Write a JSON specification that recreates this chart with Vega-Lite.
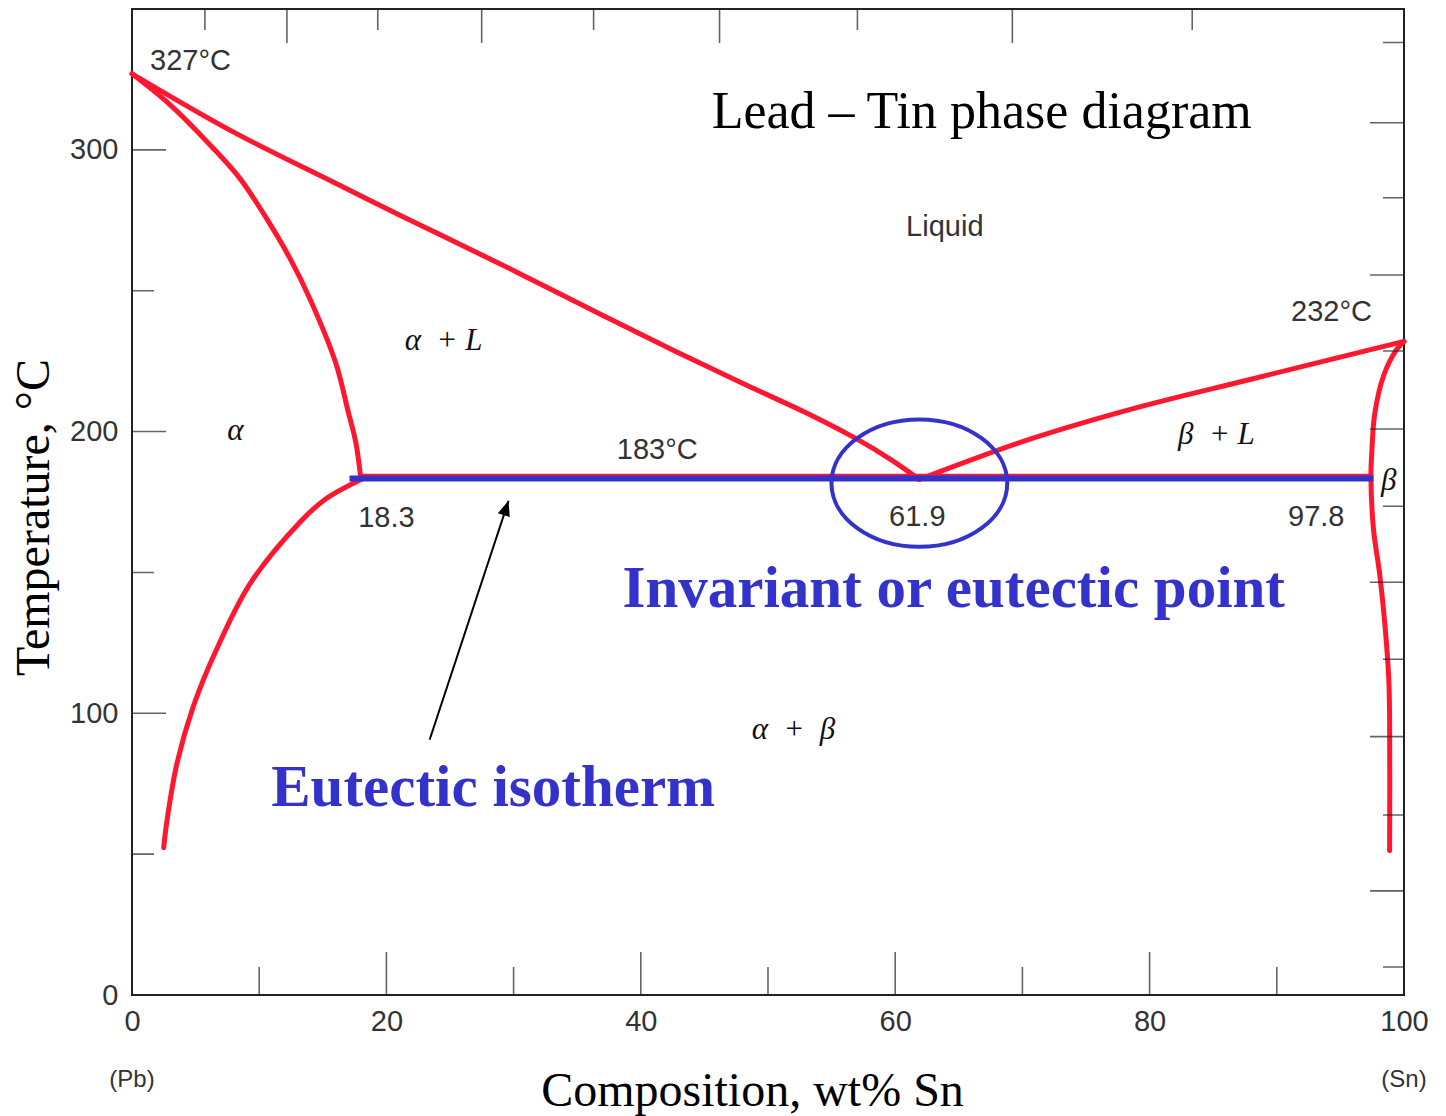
{
  "$schema": "https://vega.github.io/schema/vega-lite/v6.json",
  "width": 1272,
  "height": 986,
  "autosize": {"type": "none"},
  "padding": {"left": 132, "top": 9, "right": 42, "bottom": 121},
  "background": "white",
  "config": {"view": {"stroke": "#222", "strokeWidth": 2}, "font": "Liberation Sans"},
  "datasets": {
    "curves": [
      {"curve": "liqA", "i": 0, "x": 0, "T": 327},
      {"curve": "liqA", "i": 1, "x": 7.99, "T": 306.3},
      {"curve": "liqA", "i": 2, "x": 15.85, "T": 288.5},
      {"curve": "liqA", "i": 3, "x": 21.1, "T": 276.7},
      {"curve": "liqA", "i": 4, "x": 28.95, "T": 259.5},
      {"curve": "liqA", "i": 5, "x": 32.1, "T": 252.4},
      {"curve": "liqA", "i": 6, "x": 39.96, "T": 234.6},
      {"curve": "liqA", "i": 7, "x": 47.82, "T": 217.5},
      {"curve": "liqA", "i": 8, "x": 53.07, "T": 206.5},
      {"curve": "liqA", "i": 9, "x": 57.0, "T": 197.3},
      {"curve": "liqA", "i": 10, "x": 59.6, "T": 190.2},
      {"curve": "liqA", "i": 11, "x": 61.9, "T": 183},
      {"curve": "solA", "i": 0, "x": 0, "T": 327},
      {"curve": "solA", "i": 1, "x": 3.0, "T": 316},
      {"curve": "solA", "i": 2, "x": 6.42, "T": 300.4},
      {"curve": "solA", "i": 3, "x": 8.51, "T": 289.7},
      {"curve": "solA", "i": 4, "x": 10.6, "T": 275.5},
      {"curve": "solA", "i": 5, "x": 12.44, "T": 261.3},
      {"curve": "solA", "i": 6, "x": 14.0, "T": 247},
      {"curve": "solA", "i": 7, "x": 16.0, "T": 224.6},
      {"curve": "solA", "i": 8, "x": 17.0, "T": 207},
      {"curve": "solA", "i": 9, "x": 17.6, "T": 196},
      {"curve": "solA", "i": 10, "x": 18.0, "T": 183},
      {"curve": "solvA", "i": 0, "x": 18.0, "T": 183},
      {"curve": "solvA", "i": 1, "x": 15.2, "T": 176},
      {"curve": "solvA", "i": 2, "x": 13.24, "T": 168},
      {"curve": "solvA", "i": 3, "x": 9.31, "T": 146.2},
      {"curve": "solvA", "i": 4, "x": 6.68, "T": 123},
      {"curve": "solvA", "i": 5, "x": 4.84, "T": 102.7},
      {"curve": "solvA", "i": 6, "x": 3.54, "T": 82.3},
      {"curve": "solvA", "i": 7, "x": 2.75, "T": 61.9},
      {"curve": "solvA", "i": 8, "x": 2.49, "T": 52.3},
      {"curve": "liqB", "i": 0, "x": 61.9, "T": 183},
      {"curve": "liqB", "i": 1, "x": 70.6, "T": 197.3},
      {"curve": "liqB", "i": 2, "x": 79, "T": 208.5},
      {"curve": "liqB", "i": 3, "x": 87.9, "T": 218.5},
      {"curve": "liqB", "i": 4, "x": 100, "T": 232},
      {"curve": "solB", "i": 0, "x": 100, "T": 232},
      {"curve": "solB", "i": 1, "x": 99.4, "T": 229},
      {"curve": "solB", "i": 2, "x": 98.4, "T": 219.9},
      {"curve": "solB", "i": 3, "x": 97.7, "T": 206.3},
      {"curve": "solB", "i": 4, "x": 97.47, "T": 192.7},
      {"curve": "solB", "i": 5, "x": 97.4, "T": 184.5},
      {"curve": "solB", "i": 6, "x": 97.6, "T": 165.4},
      {"curve": "solB", "i": 7, "x": 98.1, "T": 149},
      {"curve": "solB", "i": 8, "x": 98.5, "T": 131.4},
      {"curve": "solB", "i": 9, "x": 98.8, "T": 112.4},
      {"curve": "solB", "i": 10, "x": 98.87, "T": 97.4},
      {"curve": "solB", "i": 11, "x": 98.87, "T": 51.2}
    ],
    "ticks": [
      {"side": "left", "kind": "major", "v": 100},
      {"side": "left", "kind": "major", "v": 200},
      {"side": "left", "kind": "major", "v": 300},
      {"side": "left", "kind": "minor", "v": 50},
      {"side": "left", "kind": "minor", "v": 150},
      {"side": "left", "kind": "minor", "v": 250},
      {"side": "bottom", "kind": "major", "v": 20},
      {"side": "bottom", "kind": "major", "v": 40},
      {"side": "bottom", "kind": "major", "v": 60},
      {"side": "bottom", "kind": "major", "v": 80},
      {"side": "bottom", "kind": "minor", "v": 10},
      {"side": "bottom", "kind": "minor", "v": 30},
      {"side": "bottom", "kind": "minor", "v": 50},
      {"side": "bottom", "kind": "minor", "v": 70},
      {"side": "bottom", "kind": "minor", "v": 90},
      {"side": "top", "kind": "major", "v": 12.18},
      {"side": "top", "kind": "major", "v": 27.49},
      {"side": "top", "kind": "major", "v": 46.19},
      {"side": "top", "kind": "major", "v": 69.21},
      {"side": "top", "kind": "minor", "v": 5.73},
      {"side": "top", "kind": "minor", "v": 19.32},
      {"side": "top", "kind": "minor", "v": 36.29},
      {"side": "top", "kind": "minor", "v": 57.03},
      {"side": "top", "kind": "minor", "v": 83.35},
      {"side": "right", "kind": "major", "v": 309.6},
      {"side": "right", "kind": "major", "v": 255.6},
      {"side": "right", "kind": "major", "v": 200.9},
      {"side": "right", "kind": "major", "v": 146.5},
      {"side": "right", "kind": "major", "v": 91.7},
      {"side": "right", "kind": "major", "v": 36.97},
      {"side": "right", "kind": "minor", "v": 338.1},
      {"side": "right", "kind": "minor", "v": 283.0},
      {"side": "right", "kind": "minor", "v": 228.6},
      {"side": "right", "kind": "minor", "v": 173.5},
      {"side": "right", "kind": "minor", "v": 119.2},
      {"side": "right", "kind": "minor", "v": 63.9},
      {"side": "right", "kind": "minor", "v": 9.95}
    ],
    "isotherm": [{"x": 17.1, "x2": 97.6, "T": 183.3}],
    "isothermRed": [{"x": 18.0, "x2": 97.4, "T": 184.3}],
    "eutectic": [{"x": 61.9, "T": 181.7}],
    "arrow": [{"x": 23.4, "T": 90.6, "x2": 29.6, "T2": 175.4}],
    "arrowTip": [{"x": 29.6, "T": 175.4}],
    "sansLabels": [
      {"label": "327°C", "x": 4.6, "T": 331.7},
      {"label": "Liquid", "x": 63.9, "T": 272.7},
      {"label": "232°C", "x": 94.3, "T": 242.4},
      {"label": "183°C", "x": 41.3, "T": 193.4},
      {"label": "18.3", "x": 20.0, "T": 169.4},
      {"label": "61.9", "x": 61.74, "T": 169.6},
      {"label": "97.8", "x": 93.1, "T": 169.6}
    ],
    "greekLabels": [
      {"label": "α\u00a0\u00a0+ L", "x": 24.5, "T": 232.1},
      {"label": "α", "x": 8.13, "T": 200.1},
      {"label": "β\u00a0\u00a0+ L", "x": 85.25, "T": 198.7},
      {"label": "β", "x": 98.8, "T": 182.5},
      {"label": "α\u00a0\u00a0+\u00a0\u00a0β", "x": 52.0, "T": 93.9}
    ],
    "blueLabels": [
      {"label": "Invariant or eutectic point", "x": 64.6, "T": 144.0},
      {"label": "Eutectic isotherm", "x": 28.4, "T": 73.6}
    ],
    "titleLabel": [{"label": "Lead – Tin phase diagram", "x": 66.8, "T": 313.5}],
    "endLabels": [
      {"label": "(Pb)", "x": 0, "T": -30.2},
      {"label": "(Sn)", "x": 100, "T": -30.2}
    ]
  },
  "layer": [
    {
      "data": {"name": "curves"},
      "mark": {"type": "line", "color": "#FF1730", "strokeWidth": 5, "strokeCap": "round", "strokeJoin": "round", "interpolate": "catmull-rom"},
      "encoding": {
        "x": {
          "field": "x", "type": "quantitative",
          "scale": {"domain": [0, 100], "nice": false, "zero": false},
          "axis": {
            "values": [0, 20, 40, 60, 80, 100], "ticks": false, "domain": false, "grid": false,
            "labelFont": "Liberation Sans", "labelFontSize": 29, "labelColor": "#333",
            "labelPadding": 12, "labelFlush": false, "labelOverlap": false,
            "title": "Composition, wt% Sn", "titleFont": "Liberation Serif", "titleFontSize": 48,
            "titleFontWeight": "normal", "titleColor": "#000", "titlePadding": 31, "titleX": 620
          }
        },
        "y": {
          "field": "T", "type": "quantitative",
          "scale": {"domain": [0, 350], "nice": false, "zero": false},
          "axis": {
            "values": [0, 100, 200, 300], "ticks": false, "domain": false, "grid": false,
            "labelFont": "Liberation Sans", "labelFontSize": 29, "labelColor": "#333",
            "labelPadding": 14, "labelFlush": false, "labelOverlap": false,
            "title": "Temperature, °C", "titleFont": "Liberation Serif", "titleFontSize": 48,
            "titleFontWeight": "normal", "titleColor": "#000", "titlePadding": 11, "titleY": 508
          }
        },
        "detail": {"field": "curve"},
        "order": {"field": "i", "type": "quantitative"}
      }
    },
    {
      "data": {"name": "ticks"},
      "transform": [{"filter": "datum.side === 'left' && datum.kind === 'major'"}],
      "mark": {"type": "tick", "orient": "horizontal", "clip": true, "size": 68, "thickness": 1.6, "color": "#222"},
      "encoding": {"x": {"datum": 0, "type": "quantitative"}, "y": {"field": "v", "type": "quantitative"}}
    },
    {
      "data": {"name": "ticks"},
      "transform": [{"filter": "datum.side === 'left' && datum.kind === 'minor'"}],
      "mark": {"type": "tick", "orient": "horizontal", "clip": true, "size": 44, "thickness": 1.6, "color": "#222"},
      "encoding": {"x": {"datum": 0, "type": "quantitative"}, "y": {"field": "v", "type": "quantitative"}}
    },
    {
      "data": {"name": "ticks"},
      "transform": [{"filter": "datum.side === 'right' && datum.kind === 'major'"}],
      "mark": {"type": "tick", "orient": "horizontal", "clip": true, "size": 68, "thickness": 1.6, "color": "#222"},
      "encoding": {"x": {"datum": 100, "type": "quantitative"}, "y": {"field": "v", "type": "quantitative"}}
    },
    {
      "data": {"name": "ticks"},
      "transform": [{"filter": "datum.side === 'right' && datum.kind === 'minor'"}],
      "mark": {"type": "tick", "orient": "horizontal", "clip": true, "size": 42, "thickness": 1.6, "color": "#222"},
      "encoding": {"x": {"datum": 100, "type": "quantitative"}, "y": {"field": "v", "type": "quantitative"}}
    },
    {
      "data": {"name": "ticks"},
      "transform": [{"filter": "datum.side === 'bottom' && datum.kind === 'major'"}],
      "mark": {"type": "tick", "orient": "vertical", "clip": true, "size": 86, "thickness": 1.6, "color": "#222"},
      "encoding": {"y": {"datum": 0, "type": "quantitative"}, "x": {"field": "v", "type": "quantitative"}}
    },
    {
      "data": {"name": "ticks"},
      "transform": [{"filter": "datum.side === 'bottom' && datum.kind === 'minor'"}],
      "mark": {"type": "tick", "orient": "vertical", "clip": true, "size": 56, "thickness": 1.6, "color": "#222"},
      "encoding": {"y": {"datum": 0, "type": "quantitative"}, "x": {"field": "v", "type": "quantitative"}}
    },
    {
      "data": {"name": "ticks"},
      "transform": [{"filter": "datum.side === 'top' && datum.kind === 'major'"}],
      "mark": {"type": "tick", "orient": "vertical", "clip": true, "size": 68, "thickness": 1.6, "color": "#222"},
      "encoding": {"y": {"datum": 350, "type": "quantitative"}, "x": {"field": "v", "type": "quantitative"}}
    },
    {
      "data": {"name": "ticks"},
      "transform": [{"filter": "datum.side === 'top' && datum.kind === 'minor'"}],
      "mark": {"type": "tick", "orient": "vertical", "clip": true, "size": 42, "thickness": 1.6, "color": "#222"},
      "encoding": {"y": {"datum": 350, "type": "quantitative"}, "x": {"field": "v", "type": "quantitative"}}
    },
    {
      "data": {"name": "isothermRed"},
      "mark": {"type": "rule", "color": "#FF1730", "strokeWidth": 4},
      "encoding": {"x": {"field": "x", "type": "quantitative"}, "x2": {"field": "x2"}, "y": {"field": "T", "type": "quantitative"}}
    },
    {
      "data": {"name": "isotherm"},
      "mark": {"type": "rule", "color": "#3333CC", "strokeWidth": 6},
      "encoding": {"x": {"field": "x", "type": "quantitative"}, "x2": {"field": "x2"}, "y": {"field": "T", "type": "quantitative"}}
    },
    {
      "data": {"name": "eutectic"},
      "mark": {"type": "point", "shape": "M-1,0A1,0.725,0,1,0,1,0A1,0.725,0,1,0,-1,0Z", "filled": false, "color": "#3333CC", "strokeWidth": 4, "size": 30900, "opacity": 1},
      "encoding": {"x": {"field": "x", "type": "quantitative"}, "y": {"field": "T", "type": "quantitative"}}
    },
    {
      "data": {"name": "arrow"},
      "mark": {"type": "rule", "color": "#000", "strokeWidth": 2},
      "encoding": {
        "x": {"field": "x", "type": "quantitative"}, "x2": {"field": "x2"},
        "y": {"field": "T", "type": "quantitative"}, "y2": {"field": "T2"}
      }
    },
    {
      "data": {"name": "arrowTip"},
      "mark": {"type": "point", "shape": "M0,0L-0.42,1L0.42,1Z", "filled": true, "color": "#000", "size": 900, "angle": 18.3, "opacity": 1},
      "encoding": {"x": {"field": "x", "type": "quantitative"}, "y": {"field": "T", "type": "quantitative"}}
    },
    {
      "data": {"name": "sansLabels"},
      "mark": {"type": "text", "font": "Liberation Sans", "fontSize": 29, "color": "#333", "align": "center", "baseline": "middle"},
      "encoding": {"x": {"field": "x", "type": "quantitative"}, "y": {"field": "T", "type": "quantitative"}, "text": {"field": "label"}}
    },
    {
      "data": {"name": "greekLabels"},
      "mark": {"type": "text", "font": "Liberation Serif", "fontStyle": "italic", "fontSize": 31, "color": "#111", "align": "center", "baseline": "middle"},
      "encoding": {"x": {"field": "x", "type": "quantitative"}, "y": {"field": "T", "type": "quantitative"}, "text": {"field": "label"}}
    },
    {
      "data": {"name": "blueLabels"},
      "mark": {"type": "text", "font": "Liberation Serif", "fontWeight": "bold", "fontSize": 59, "color": "#3333CC", "align": "center", "baseline": "middle"},
      "encoding": {"x": {"field": "x", "type": "quantitative"}, "y": {"field": "T", "type": "quantitative"}, "text": {"field": "label"}}
    },
    {
      "data": {"name": "titleLabel"},
      "mark": {"type": "text", "font": "Liberation Serif", "fontSize": 52, "color": "#000", "align": "center", "baseline": "middle"},
      "encoding": {"x": {"field": "x", "type": "quantitative"}, "y": {"field": "T", "type": "quantitative"}, "text": {"field": "label"}}
    },
    {
      "data": {"name": "endLabels"},
      "mark": {"type": "text", "font": "Liberation Sans", "fontSize": 24, "color": "#333", "align": "center", "baseline": "middle"},
      "encoding": {"x": {"field": "x", "type": "quantitative"}, "y": {"field": "T", "type": "quantitative"}, "text": {"field": "label"}}
    }
  ]
}
